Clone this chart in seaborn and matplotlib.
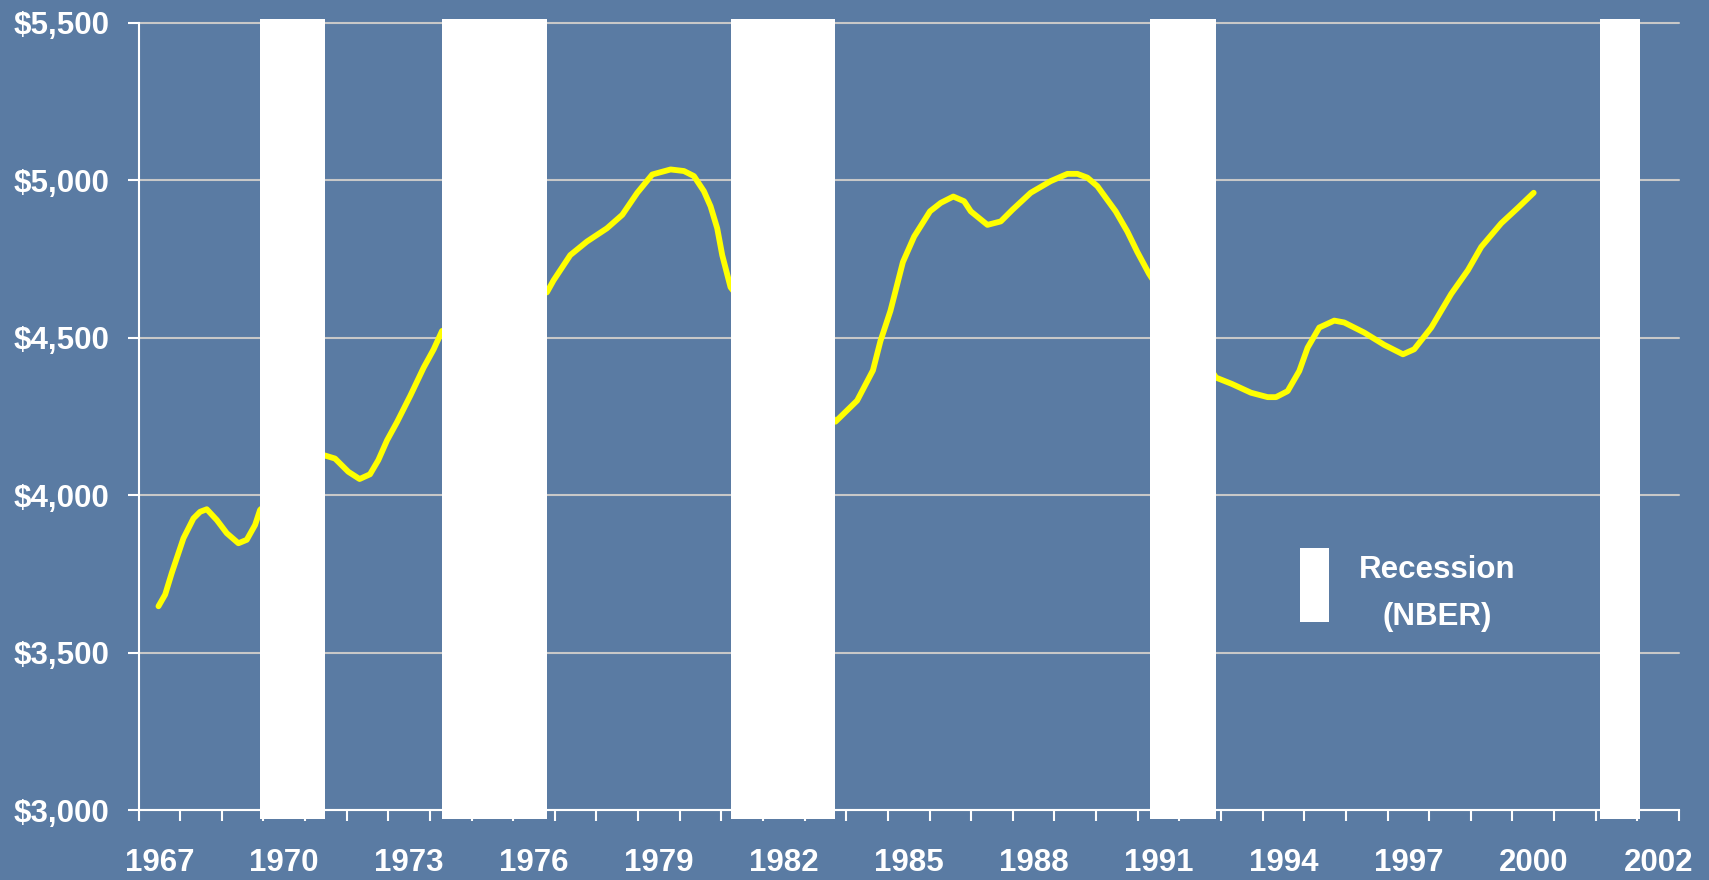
import numpy as np
import pandas as pd
import matplotlib
matplotlib.use('Agg')
import matplotlib.pyplot as plt
import seaborn as sns
from matplotlib.patches import Patch, Rectangle
from matplotlib.legend_handler import HandlerPatch

# line series (decimal year, dollars)
years = [1967.48, 1967.64, 1967.80, 1968.08, 1968.32, 1968.48, 1968.64, 1968.88,
         1969.12, 1969.40, 1969.60, 1969.80, 1969.92,
         1971.47, 1971.72, 1972.04, 1972.31, 1972.56, 1972.76, 1972.97, 1973.21,
         1973.53, 1973.85, 1974.09, 1974.29,
         1976.81, 1976.97, 1977.37, 1977.77, 1978.25, 1978.62, 1978.98, 1979.34,
         1979.78, 1980.10, 1980.34, 1980.58, 1980.74, 1980.90, 1981.02, 1981.22,
         1983.74, 1984.26, 1984.64, 1984.82, 1985.06, 1985.36, 1985.63, 1986.01,
         1986.27, 1986.57, 1986.83, 1986.99, 1987.39, 1987.71, 1987.99, 1988.43,
         1988.91, 1989.31, 1989.55, 1989.79, 1990.03, 1990.47, 1990.75, 1990.99,
         1991.27,
         1992.88, 1993.26, 1993.72, 1994.12, 1994.32, 1994.60, 1994.88, 1995.08,
         1995.36, 1995.72, 1995.96, 1996.44, 1996.92, 1997.37, 1997.64, 1998.05,
         1998.53, 1998.93, 1999.25, 1999.73, 2000.13, 2000.51]
values = [3647, 3684, 3753, 3863, 3926, 3947, 3955, 3921,
          3879, 3847, 3858, 3905, 3953,
          4126, 4116, 4074, 4051, 4066, 4111, 4174, 4232,
          4316, 4405, 4463, 4521,
          4644, 4682, 4762, 4805, 4847, 4890, 4960, 5018,
          5034, 5029, 5013, 4965, 4917, 4847, 4762, 4660,
          4233, 4300, 4396, 4489, 4585, 4740, 4821, 4901,
          4928, 4948, 4933, 4901, 4858, 4869, 4906, 4960,
          4997, 5020, 5020, 5008, 4981, 4901, 4837, 4772,
          4703,
          4373, 4353, 4325, 4311, 4311, 4330, 4394, 4468,
          4532, 4554, 4548, 4516, 4477, 4447, 4463, 4532,
          4639, 4714, 4788, 4863, 4912, 4960]

# recession shading (NBER)
rec_start = [1969.92, 1974.30, 1981.24, 1991.29, 2002.11]
rec_end = [1971.47, 1976.80, 1983.73, 1992.88, 2003.07]

yticks = [3000, 3500, 4000, 4500, 5000, 5500]
ytick_labels = ['$3,000', '$3,500', '$4,000', '$4,500', '$5,000', '$5,500']
label_years = [1967, 1970, 1973, 1976, 1979, 1982, 1985, 1988, 1991, 1994, 1997, 2000, 2003]
xtick_labels = ['1967', '1970', '1973', '1976', '1979', '1982', '1985', '1988',
                '1991', '1994', '1997', '2000', '2002']

sns.set_theme(style='white')
plt.rcParams['font.family'] = ['Liberation Sans', 'DejaVu Sans']
plt.rcParams['font.weight'] = 'bold'

W, H = 1709, 880
bg = '#5A7BA3'
fig = plt.figure(figsize=(W / 100, H / 100), dpi=100)
fig.patch.set_facecolor(bg)
ax = fig.add_axes([138.5 / W, 1 - 810 / H, (1679 - 138.5) / W, (810 - 22.7) / H])
ax.set_facecolor(bg)

df = pd.DataFrame({'year': years, 'value': values})
sns.lineplot(data=df, x='year', y='value', ax=ax, color='#FFFF00', lw=4.2,
             estimator=None, sort=False, zorder=3, solid_capstyle='round')

# white recession bars poke slightly past the plot area
ax.bar(rec_start, height=5512 - 2972, width=np.subtract(rec_end, rec_start),
       bottom=2972, align='edge', color='white', edgecolor='none', zorder=4, clip_on=False)

ax.set_xlim(1967, 2004)
ax.set_ylim(3000, 5500)
ax.set_xlabel('')
ax.set_ylabel('')

ax.set_yticks(yticks)
ax.set_yticklabels(ytick_labels)
ax.set_xticks(np.array(label_years) + 0.5)
ax.set_xticklabels(xtick_labels)
ax.set_xticks(np.arange(1967, 2005), minor=True)

fs = 22.5
ax.tick_params(axis='x', which='major', length=0, pad=27, labelsize=fs, labelcolor='white')
ax.tick_params(axis='x', which='minor', length=8, width=1.5, color='white', direction='out', bottom=True)
ax.tick_params(axis='y', length=8, width=1.5, color='white', direction='out', pad=13,
               labelsize=fs, labelcolor='white', left=True)

ax.yaxis.grid(True, color='#C8C8C8', lw=1.5)
ax.xaxis.grid(False)
ax.set_axisbelow(True)
for gl in ax.get_ygridlines():
    gl.set_clip_on(False)

for side in ['top', 'right']:
    ax.spines[side].set_visible(False)
for side in ['left', 'bottom']:
    ax.spines[side].set_color('white')
    ax.spines[side].set_linewidth(1.5)


def raised_box(legend, orig_handle, xdescent, ydescent, width, height, fontsize):
    # the key box sits a little higher than the two text lines
    return Rectangle((-xdescent, -ydescent + 7.8), width, height)


leg = ax.legend(handles=[Patch(facecolor='white', edgecolor='none')], labels=['Recession\n(NBER)'],
                handler_map={Patch: HandlerPatch(patch_func=raised_box)},
                loc='center left', bbox_to_anchor=(1300 / W, 1 - 594 / H), bbox_transform=fig.transFigure,
                frameon=False, handlelength=0.93, handleheight=3.27, handletextpad=0.96,
                borderpad=0, borderaxespad=0, prop={'size': fs, 'weight': 'bold'}, labelcolor='white')
for t in leg.get_texts():
    t.set_multialignment('center')
    t.set_linespacing(1.72)

fig.savefig('out.png', dpi=100, facecolor=bg)
